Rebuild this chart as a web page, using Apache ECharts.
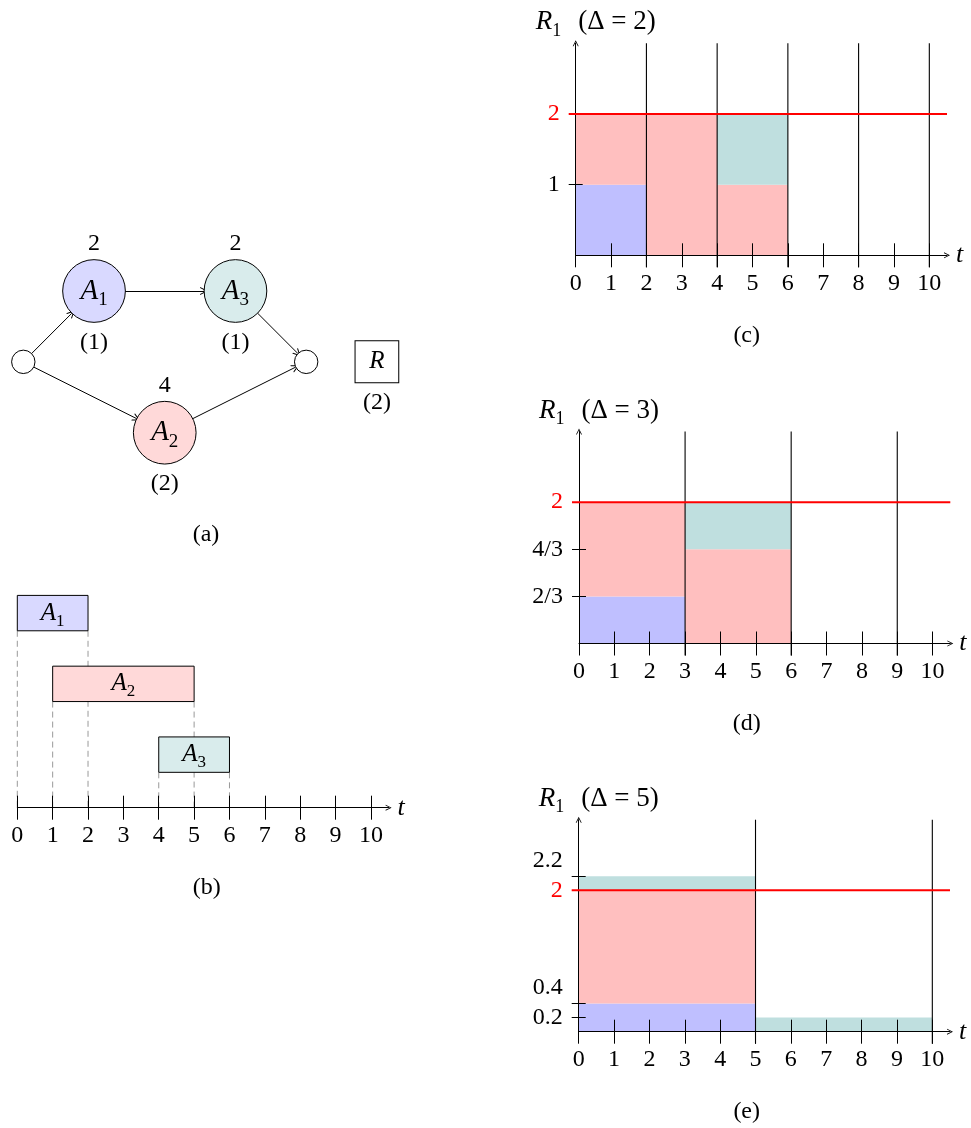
<!DOCTYPE html>
<html>
<head>
<meta charset="utf-8">
<title>R1 usage per window</title>
<script src="https://cdn.jsdelivr.net/npm/echarts@6/dist/echarts.min.js"></script>
<style>body { margin: 0; background: #fff; }</style>
</head>
<body>
<div id="main" style="width:971px;height:1128px;"></div>
<script>
// ---- data ----
// (a) activity network, node layout in grid units
var nodeNames = ['s', 'A1', 'A2', 'A3', 'e', 'R'];
var nodeX = [0, 2, 4, 6, 8, 10];
var nodeY = [0, 2, -2, 2, 0, 0];
var edges = [['s', 'A1'], ['s', 'A2'], ['A1', 'A3'], ['A3', 'e'], ['A2', 'e']];
var acts = ['A1', 'A2', 'A3'];
var durations = [2, 4, 2];
var demands = [1, 2, 1];
var capacity = 2;

// (b) schedule
var starts = [0, 1, 4];
var ends = [2, 5, 6];
var lanes = [2, 1, 0];

var tTicks = [0, 1, 2, 3, 4, 5, 6, 7, 8, 9, 10];
var horizon = 10;

// (c)(d)(e) usage of R1 in each window of length delta
var deltas = [2, 3, 5];
var useA1 = [[1, 0, 0, 0, 0], [2 / 3, 0, 0, 0], [0.4, 0]];
var useA2 = [[1, 2, 1, 0, 0], [4 / 3, 4 / 3, 0, 0], [1.6, 0]];
var useA3 = [[0, 0, 1, 0, 0], [0, 2 / 3, 0, 0], [0.2, 0.2]];
var yTickVals = [[1], [2 / 3, 4 / 3], [0.2, 0.4, 2.2]];
var yTickText = [['1'], ['2/3', '4/3'], ['0.2', '0.4', '2.2']];

// ---- look ----
var FONT = '"Liberation Serif", "Times New Roman", serif';
var FS = 24;
var ARROW = 'path://M0,10 L5,0 L10,10 L8.6,10 L5,2.8 L1.4,10 Z';
var softFill = ['#d9d9ff', '#ffd9d9', '#d9ecec'];
var useFill = ['#bfbfff', '#ffbfbf', '#bfdfdf'];
var tMax = 10.5, rMax = 3;
var lifted = [[], [], ['0.4', '2.2']];   // labels drawn a bit above their tick in (e)
var panelGrids = [
    {left: 575.7, top: 43.3, width: 371.3, height: 212},
    {left: 579, top: 431.5, width: 371.3, height: 212},
    {left: 578.7, top: 819.7, width: 371.3, height: 212}
];

function mathRich(big, small) {
    return {
        i: {fontFamily: FONT, fontStyle: 'italic', fontSize: big, lineHeight: big + 4, color: '#000'},
        s: {fontFamily: FONT, fontSize: small, lineHeight: big + 8, verticalAlign: 'bottom', color: '#000'},
        n: {fontFamily: FONT, fontSize: big, lineHeight: big + 4, color: '#000'},
        g: {fontFamily: FONT, fontSize: big, width: 17}
    };
}
function sub(name) { return '{i|' + name.charAt(0) + '}{s|' + name.slice(1) + '}'; }
function idx(name) { return nodeNames.indexOf(name); }

var chart = echarts.init(document.getElementById('main'));

// ---- grids and axes ----
var grids = [
    {left: 23.3, top: 291, width: 353.6, height: 141.7},
    {left: 17.3, top: 595.4, width: 371.3, height: 212.3}
].concat(panelGrids);
grids.forEach(function (g) { g.outerBoundsMode = 'none'; g.containLabel = false; });

function hiddenAxis(g, min, max) {
    return {type: 'value', gridIndex: g, min: min, max: max, show: false};
}
function tAxis(g, inner) {
    return {
        type: 'value', gridIndex: g, position: 'bottom', min: 0, max: tMax, z: 5,
        axisLine: inner ? {show: false} : {show: true, onZero: false, symbol: ['none', ARROW], symbolSize: [8, 6],
            lineStyle: {color: '#000', width: 1}},
        axisTick: {show: true, inside: inner, length: 12, customValues: tTicks, lineStyle: {color: '#000', width: 1}},
        axisLabel: {show: !inner, customValues: tTicks, margin: 16, color: '#000', fontFamily: FONT, fontSize: FS,
            hideOverlap: false},
        splitLine: {show: false},
        name: inner ? '' : 't', nameLocation: 'end', nameGap: 9,
        nameTextStyle: {fontFamily: FONT, fontStyle: 'italic', fontSize: 26, color: '#000', verticalAlign: 'middle'}
    };
}
// kind: 'main' = line, outer ticks, plain labels; 'inner' = inner ticks; 'lift' = lifted labels only
function rAxis(g, p, kind) {
    var vals = [], txt = [];
    yTickVals[p].concat([capacity]).forEach(function (v, i) {
        var t = i < yTickText[p].length ? yTickText[p][i] : String(capacity);
        var isLift = lifted[p].indexOf(t) >= 0;
        if ((kind === 'lift') === isLift) { vals.push(v); txt.push(t); }
    });
    return {
        type: 'value', gridIndex: g, position: 'left', min: 0, max: rMax, z: 5,
        axisLine: kind === 'main' ? {show: true, onZero: false, symbol: ['none', ARROW], symbolSize: [8, 6],
            lineStyle: {color: '#000', width: 1}} : {show: false},
        axisTick: {show: kind !== 'lift', inside: kind === 'inner', length: 7, customValues: yTickVals[p],
            lineStyle: {color: '#000', width: 1}},
        axisLabel: {
            show: kind !== 'inner', customValues: vals, margin: 16, color: '#000', fontFamily: FONT, fontSize: FS,
            hideOverlap: false,
            formatter: function (v) {
                var k = 0;
                for (var i = 0; i < vals.length; i++) if (Math.abs(vals[i] - v) < 1e-6) k = i;
                if (vals[k] === capacity) return '{cap|' + txt[k] + '}';
                if (kind === 'lift') return '{n|' + txt[k] + '}\n{gap| }';
                return txt[k];
            },
            rich: {
                cap: {color: '#ff0000', fontFamily: FONT, fontSize: FS},
                n: {color: '#000', fontFamily: FONT, fontSize: FS, lineHeight: 24},
                gap: {fontSize: 10, lineHeight: 32}
            }
        },
        splitLine: {show: false}
    };
}

var xAxes = [hiddenAxis(0, 0, 10), tAxis(1, false), tAxis(1, true)];
var yAxes = [hiddenAxis(0, -2, 2), hiddenAxis(1, 0, rMax)];
var panelAxes = [];
panelGrids.forEach(function (g, p) {
    panelAxes.push({x: xAxes.length, y: yAxes.length});
    xAxes.push(tAxis(p + 2, false), tAxis(p + 2, true));
    yAxes.push(rAxis(p + 2, p, 'main'), rAxis(p + 2, p, 'inner'));
    if (lifted[p].length) yAxes.push(rAxis(p + 2, p, 'lift'));
});

// ---- (a) network ----
var graphNodes = nodeNames.map(function (n, i) {
    var a = acts.indexOf(n);
    var node = {name: n, value: [nodeX[i], nodeY[i]], label: {show: false}};
    if (a >= 0) {
        node.symbol = 'circle'; node.symbolSize = 62.7;
        node.itemStyle = {color: softFill[a], borderColor: '#000', borderWidth: 1};
        node.label = {show: true, position: 'inside', formatter: sub(n), rich: mathRich(29, 19)};
    } else if (n === 'R') {
        node.symbol = 'rect'; node.symbolSize = [43.7, 42];
        node.itemStyle = {color: '#fff', borderColor: '#000', borderWidth: 1};
        node.label = {show: true, position: 'inside', formatter: '{i|R}', rich: mathRich(25, 17)};
    } else {
        node.symbol = 'circle'; node.symbolSize = 23.4;
        node.itemStyle = {color: '#fff', borderColor: '#000', borderWidth: 1};
    }
    return node;
});
var graphLinks = edges.map(function (e) { return {source: e[0], target: e[1]}; });

var topLabels = acts.map(function (n, a) {
    return {value: [nodeX[idx(n)], nodeY[idx(n)]], symbolSize: 62.7, label: {formatter: String(durations[a])}};
});
var bottomLabels = acts.map(function (n, a) {
    return {value: [nodeX[idx(n)], nodeY[idx(n)]], symbolSize: 62.7, label: {formatter: '(' + demands[a] + ')'}};
}).concat([{value: [nodeX[idx('R')], nodeY[idx('R')]], symbolSize: 42, label: {formatter: '(' + capacity + ')'}}]);

var labelItem = {color: 'rgba(0,0,0,0)', opacity: 1};
var series = [
    {
        type: 'graph', coordinateSystem: 'cartesian2d', xAxisIndex: 0, yAxisIndex: 0,
        data: graphNodes, links: graphLinks, silent: true,
        edgeSymbol: ['none', ARROW], edgeSymbolSize: 8,
        lineStyle: {color: '#000', width: 1, opacity: 1, curveness: 0}
    },
    {
        type: 'scatter', xAxisIndex: 0, yAxisIndex: 0, data: topLabels, silent: true,
        itemStyle: labelItem,
        label: {show: true, position: 'top', distance: 4, color: '#000', fontFamily: FONT, fontSize: FS, opacity: 1}
    },
    {
        type: 'scatter', xAxisIndex: 0, yAxisIndex: 0, data: bottomLabels, silent: true,
        itemStyle: labelItem,
        label: {show: true, position: 'bottom', distance: 8, color: '#000', fontFamily: FONT, fontSize: FS, opacity: 1}
    }
];

// ---- (b) schedule ----
var dashData = [], boxData = [];
acts.forEach(function (n, a) {
    dashData.push([starts[a], lanes[a]], [ends[a], lanes[a]]);
    boxData.push([starts[a], ends[a], lanes[a], a]);
});
series.push({
    type: 'custom', xAxisIndex: 1, yAxisIndex: 1, data: dashData, silent: true, z: 2,
    encode: {x: 0, y: 1},
    renderItem: function (params, api) {
        var a = api.coord([api.value(0), api.value(1) + 0.5]);
        var b = api.coord([api.value(0), 0]);
        return {type: 'line', shape: {x1: a[0], y1: a[1], x2: b[0], y2: b[1]},
            style: {stroke: '#999', lineWidth: 1, lineDash: [6, 4]}};
    }
});
series.push({
    type: 'custom', xAxisIndex: 1, yAxisIndex: 1, data: boxData, silent: true, z: 3,
    encode: {x: [0, 1], y: 2},
    renderItem: function (params, api) {
        var a = api.coord([api.value(0), api.value(2) + 1]);
        var b = api.coord([api.value(1), api.value(2) + 0.5]);
        var k = api.value(3);
        return {
            type: 'rect', shape: {x: a[0], y: a[1], width: b[0] - a[0], height: b[1] - a[1]},
            style: {fill: softFill[k], stroke: '#000', lineWidth: 1},
            textContent: {style: {text: sub(acts[k]), rich: mathRich(25, 17), fill: '#000', stroke: null, lineWidth: 0}},
            textConfig: {position: 'inside', insideFill: '#000', insideStroke: 'rgba(0,0,0,0)'}
        };
    }
});

// ---- (c)(d)(e) usage profiles ----
function profileRects(p) {
    var d = deltas[p], out = [];
    var uses = [useA1[p], useA2[p], useA3[p]];
    for (var k = 0; k < uses[0].length; k++) {
        var x0 = k * d, x1 = Math.min((k + 1) * d, horizon), base = 0;
        for (var a = 0; a < uses.length; a++) {
            var h = uses[a][k];
            if (h > 0) out.push([x0, x1, base, base + h, a]);
            base += h;
        }
    }
    return out;
}
function windowEdges(p) {
    var out = [];
    for (var x = deltas[p]; x <= horizon; x += deltas[p]) out.push([x, rMax]);
    return out;
}
panelGrids.forEach(function (g, p) {
    var xi = panelAxes[p].x, yi = panelAxes[p].y;
    series.push({
        type: 'custom', xAxisIndex: xi, yAxisIndex: yi, data: profileRects(p), silent: true, z: 2,
        encode: {x: [0, 1], y: [2, 3]},
        renderItem: function (params, api) {
            var a = api.coord([api.value(0), api.value(3)]);
            var b = api.coord([api.value(1), api.value(2)]);
            return {type: 'rect', shape: {x: a[0], y: a[1], width: b[0] - a[0], height: b[1] - a[1]},
                style: {fill: useFill[api.value(4)]}};
        }
    });
    series.push({
        type: 'custom', xAxisIndex: xi, yAxisIndex: yi, data: windowEdges(p), silent: true, z: 3,
        encode: {x: 0, y: 1},
        renderItem: function (params, api) {
            var a = api.coord([api.value(0), 0]);
            var b = api.coord([api.value(0), api.value(1)]);
            return {type: 'line', shape: {x1: a[0], y1: a[1] + 12, x2: b[0], y2: b[1]},
                style: {stroke: '#000', lineWidth: 1.1}};
        }
    });
    series.push({
        type: 'custom', xAxisIndex: xi, yAxisIndex: yi, data: [[0, capacity]], silent: true, z: 6,
        encode: {x: 0, y: 1},
        renderItem: function (params, api) {
            var a = api.coord([0, api.value(1)]);
            var b = api.coord([tMax, api.value(1)]);
            return {type: 'line', shape: {x1: a[0] - 7, y1: a[1], x2: b[0], y2: b[1]},
                style: {stroke: '#ff0000', lineWidth: 2}};
        }
    });
});

// ---- texts: captions and panel titles ----
var textStyle = {font: FS + 'px ' + FONT, fill: '#000', align: 'center', verticalAlign: 'middle'};
var graphics = [
    {type: 'text', x: 206, y: 535, style: Object.assign({text: '(a)'}, textStyle)},
    {type: 'text', x: 206.7, y: 888, style: Object.assign({text: '(b)'}, textStyle)}
];
['(c)', '(d)', '(e)'].forEach(function (c, p) {
    var g = panelGrids[p];
    graphics.push({type: 'text', x: 746.7, y: g.top + g.height + 80, style: Object.assign({text: c}, textStyle)});
    graphics.push({
        type: 'text', x: g.left - 40, y: g.top - 21,
        style: {
            text: '{i|R}{s|1}{g| }{n|(\u0394 = ' + deltas[p] + ')}',
            rich: mathRich(27, 18), align: 'left', verticalAlign: 'middle'
        }
    });
});

chart.setOption({
    animation: false,
    backgroundColor: '#fff',
    grid: grids,
    xAxis: xAxes,
    yAxis: yAxes,
    graphic: graphics,
    series: series
});
</script>
</body>
</html>
